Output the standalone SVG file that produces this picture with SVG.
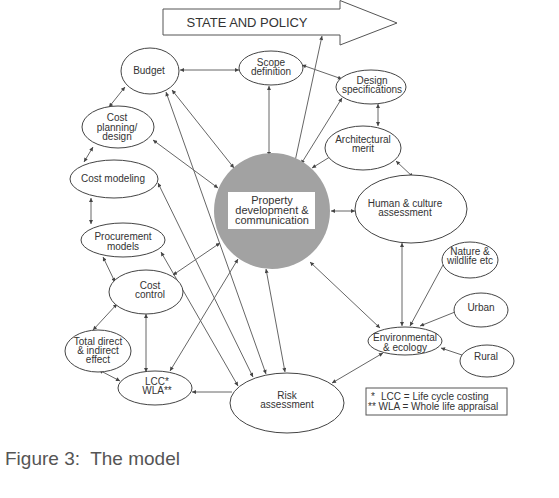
<svg xmlns="http://www.w3.org/2000/svg" width="559" height="498" viewBox="0 0 559 498">
<style>
.n ellipse{fill:#fff;stroke:#444;stroke-width:1}
text{font-family:"Liberation Sans","DejaVu Sans",sans-serif;fill:#333;font-size:10px;text-anchor:middle}
text.title{font-size:13px}
text.pd{font-size:11px}
text.lg{font-size:10px;text-anchor:start}
text.cap{font-size:19px;text-anchor:start;fill:#555}
.c line{stroke:#666;stroke-width:1;fill:none}
.c .b{marker-start:url(#ah);marker-end:url(#ah)}
.c .s{marker-end:url(#ah)}
</style>
<defs>
<marker id="ah" viewBox="0 0 10 10" refX="10" refY="5" markerWidth="5" markerHeight="4" markerUnits="userSpaceOnUse" orient="auto-start-reverse">
<path d="M0,0 L10,5 L0,10 z" fill="#444"/>
</marker>
</defs>
<rect width="559" height="498" fill="#fff"/>

<g id="policy">
<polygon points="163,9 340,9 340,0.5 397,23 340,45 340,35 163,35" fill="#fff" stroke="#555" stroke-width="1"/>
<text class="title" x="247" y="27" textLength="121">STATE AND POLICY</text>
</g>

<g class="c" id="connectors">
<line class="b" x1="180" y1="70" x2="239" y2="70"/>
<line class="b" x1="125" y1="87" x2="109" y2="107"/>
<line class="b" x1="93" y1="147" x2="84" y2="162"/>
<line class="b" x1="91" y1="198" x2="91" y2="224"/>
<line class="b" x1="103" y1="257" x2="115" y2="282"/>
<line class="b" x1="117" y1="304" x2="93" y2="330"/>
<line class="b" x1="146" y1="314" x2="146" y2="372"/>
<line class="b" x1="99" y1="370" x2="120" y2="381"/>
<line class="s" x1="232" y1="392" x2="192" y2="392"/>
<line class="b" x1="285" y1="372" x2="266" y2="269"/>
<line class="b" x1="166" y1="92" x2="266" y2="374"/>
<line class="b" x1="172" y1="90" x2="234" y2="168"/>
<line class="b" x1="153" y1="140" x2="218" y2="188"/>
<line class="b" x1="158" y1="183" x2="253" y2="377"/>
<line class="b" x1="161" y1="252" x2="238" y2="386"/>
<line class="b" x1="173" y1="275" x2="220" y2="243"/>
<line class="b" x1="170" y1="371" x2="238" y2="259"/>
<line class="b" x1="269" y1="86" x2="269" y2="156"/>
<line class="b" x1="302" y1="65" x2="342" y2="79"/>
<line class="b" x1="294" y1="166" x2="322" y2="36"/>
<line class="b" x1="342" y1="98" x2="301" y2="164"/>
<line class="b" x1="378" y1="104" x2="378" y2="126"/>
<line class="b" x1="333" y1="155" x2="312" y2="168"/>
<line class="b" x1="396" y1="161" x2="413" y2="177"/>
<line class="b" x1="331" y1="211" x2="355" y2="211"/>
<line class="b" x1="402" y1="243" x2="402" y2="326"/>
<line class="s" x1="443" y1="265" x2="410" y2="326"/>
<line class="s" x1="455" y1="312" x2="420" y2="326"/>
<line class="s" x1="462" y1="355" x2="441" y2="348"/>
<line class="b" x1="310" y1="262" x2="380" y2="328"/>
<line class="b" x1="383" y1="353" x2="332" y2="383"/>
</g>

<g id="property">
<circle cx="272" cy="211" r="58" fill="#a2a2a2"/>
<rect x="228" y="192" width="87" height="37" fill="#fff"/>
<text class="pd" x="272" y="204">Property<tspan x="272" dy="10">development &amp;</tspan><tspan x="272" dy="9.5">communication</tspan></text>
</g>

<g class="n" id="budget"><ellipse cx="150" cy="71" rx="29" ry="23"/><text x="149" y="74">Budget</text></g>
<g class="n" id="scope"><ellipse cx="271" cy="68" rx="32" ry="17"/><text x="271" y="66">Scope<tspan x="271" dy="9">definition</tspan></text></g>
<g class="n" id="design"><ellipse cx="371" cy="87" rx="35" ry="17"/><text x="372" y="84">Design<tspan x="372" dy="9">specifications</tspan></text></g>
<g class="n" id="arch"><ellipse cx="363" cy="148" rx="38" ry="22"/><text x="363" y="143">Architectural<tspan x="363" dy="9">merit</tspan></text></g>
<g class="n" id="human"><ellipse cx="411" cy="209" rx="56" ry="34"/><text x="405" y="207">Human &amp; culture<tspan x="405" dy="9">assessment</tspan></text></g>
<g class="n" id="nature"><ellipse cx="470" cy="260" rx="28" ry="18"/><text x="470" y="255">Nature &amp;<tspan x="470" dy="9">wildlife etc</tspan></text></g>
<g class="n" id="urban"><ellipse cx="481" cy="310" rx="27" ry="17"/><text x="481" y="311">Urban</text></g>
<g class="n" id="rural"><ellipse cx="487" cy="361" rx="27" ry="16"/><text x="486" y="360">Rural</text></g>
<g class="n" id="env"><ellipse cx="405" cy="341" rx="37" ry="14"/><text x="405" y="341">Environmental<tspan x="405" dy="10">&amp; ecology</tspan></text></g>
<g class="n" id="risk"><ellipse cx="287" cy="403" rx="57" ry="30"/><text x="287" y="399">Risk<tspan x="287" dy="9">assessment</tspan></text></g>
<g class="n" id="lcc"><ellipse cx="155" cy="388" rx="37" ry="17"/><text x="157" y="385">LCC*<tspan x="157" dy="9">WLA**</tspan></text></g>
<g class="n" id="total"><ellipse cx="98" cy="351" rx="33" ry="21"/><text x="98" y="345">Total direct<tspan x="98" dy="9">&amp; indirect</tspan><tspan x="98" dy="9">effect</tspan></text></g>
<g class="n" id="costcontrol"><ellipse cx="146" cy="292" rx="37" ry="22"/><text x="150" y="289">Cost<tspan x="150" dy="9">control</tspan></text></g>
<g class="n" id="procurement"><ellipse cx="123" cy="240" rx="42" ry="17"/><text x="123" y="240">Procurement<tspan x="123" dy="10">models</tspan></text></g>
<g class="n" id="costmodeling"><ellipse cx="114" cy="179" rx="44" ry="19"/><text x="113" y="182">Cost modeling</text></g>
<g class="n" id="costplanning"><ellipse cx="118" cy="127" rx="36" ry="21"/><text x="117" y="121">Cost<tspan x="117" dy="10">planning/</tspan><tspan x="117" dy="9">design</tspan></text></g>

<g id="legend">
<rect x="366" y="388" width="141" height="27" fill="#fff" stroke="#555" stroke-width="1"/>
<text class="lg" x="371" y="400">*<tspan x="381">LCC = Life cycle costing</tspan><tspan x="368" dy="9.5">** WLA = Whole life appraisal</tspan></text>
</g>

<text class="cap" x="5" y="465" xml:space="preserve">Figure 3:  The model</text>
</svg>
